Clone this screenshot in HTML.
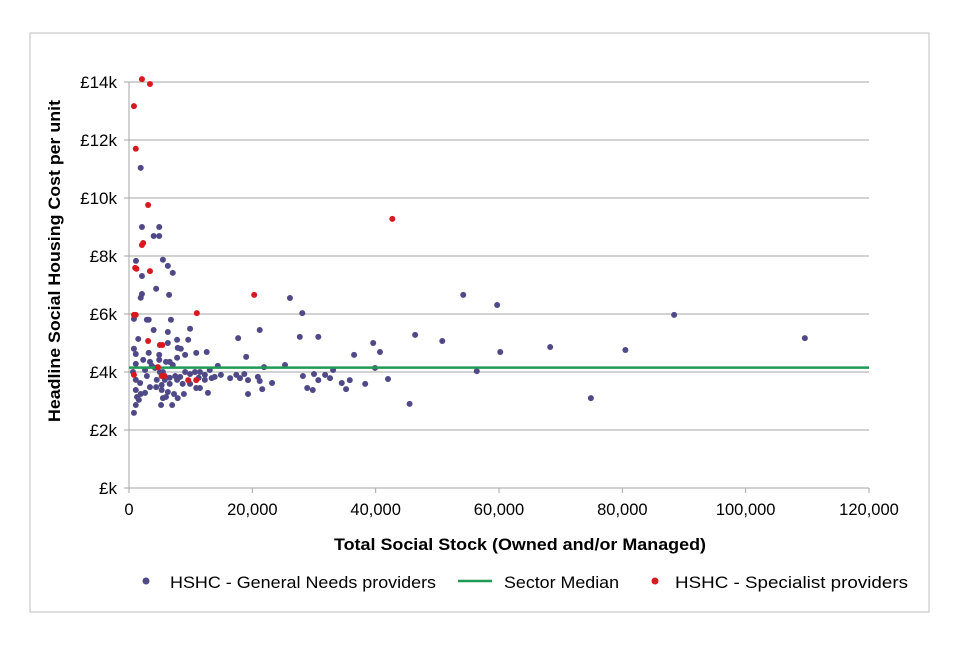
<!DOCTYPE html>
<html><head><meta charset="utf-8"><style>
body{margin:0;background:#fff;font-family:"Liberation Sans",Arial,sans-serif;}
svg text{font-family:"Liberation Sans",Arial,sans-serif;}
</style></head><body>
<svg id="c" width="960" height="640">
<rect x="30" y="33" width="899" height="579" fill="#fff" stroke="#bfbfbf"/>
<g id="grid"></g><g id="axes"></g><g id="marks"></g>
<text x="334" y="550" textLength="372" lengthAdjust="spacingAndGlyphs" font-size="16.5" font-weight="bold">Total Social Stock (Owned and/or Managed)</text>
<text transform="translate(60,422) rotate(-90)" textLength="322" lengthAdjust="spacingAndGlyphs" font-size="16.5" font-weight="bold">Headline Social Housing Cost per unit</text>
<g>
<g><circle cx="146" cy="581" r="3.5" fill="#4f4a87"/><text x="170" y="588" font-size="17" textLength="266" lengthAdjust="spacingAndGlyphs">HSHC - General Needs providers</text></g>
<g><line x1="458" y1="581" x2="492" y2="581" stroke="#1f9a55" stroke-width="2.5"/><text x="504" y="588" font-size="17" textLength="115" lengthAdjust="spacingAndGlyphs">Sector Median</text></g>
<g><circle cx="655" cy="581" r="3.5" fill="#d71920"/><text x="675" y="588" font-size="17" textLength="233" lengthAdjust="spacingAndGlyphs">HSHC - Specialist providers</text></g>
</g>
</svg>
<script>
const xTicks=[0,20000,40000,60000,80000,100000,120000];
const xTickLabels=["0","20,000","40,000","60,000","80,000","100,000","120,000"];
const yTicks=[0,2000,4000,6000,8000,10000,12000,14000];
const yTickLabels=["£k","£2k","£4k","£6k","£8k","£10k","£12k","£14k"];
const medianValue=4150;
const generalX=[54200,59700,60200,68300,80500,88400,109600,74900,56400,50800,46400,45500,42000,40700,39600,39900,38300,36500,35800,35200,34500,33100,32600,31800,30700,30000,30700,29800,28900,28200,28100,27700,26100,25300,23200,21900,21200,21200,21600,20900,19300,18700,18000,19000,17400,17700,19300,16400,14900,14400,
1130,5500,6300,7100,2100,4400,2100,1900,6500,800,2900,3200,6800,4000,6300,9900,1500,6300,7800,9600,800,1100,3200,4900,7900,8400,7800,9100,10900,1100,650,3400,4900,6000,6600,4200,7100,5500,6600,7500,8300,9100,9900,1100,1800,3400,4400,5300,6600,7800,8700,9900,10900,11300,1100,1300,1600,1100,1900,2600,800,5300,5500,6300,7300,7900,7000,5200,8900,11500,1900,2100,4900,4000,4900,2600,3700,2900,4500,5800,5000,2300,11500,12300,13100,12600,13400,12300,13900,12800,10700,6000];
const generalY=[6660,6310,4690,4860,4760,5970,5170,3100,4030,5070,5280,2900,3760,4690,5000,4140,3590,4590,3720,3410,3620,4070,3790,3900,3720,3930,5210,3380,3450,3860,6030,5210,6550,4240,3620,4170,5450,3690,3410,3830,3720,3930,3790,4520,3900,5170,3240,3790,3900,4210,
7830,7870,7660,7420,7310,6870,6690,6560,6660,5830,5800,5800,5800,5450,5380,5490,5140,5000,5110,5110,4800,4620,4660,4590,4830,4800,4490,4590,4660,4280,4000,4350,4420,4350,4350,4140,4240,4000,3800,3860,3830,4000,3930,3730,3620,3480,3480,3550,3590,3730,3590,3590,3450,3800,3380,3140,3040,2860,3240,3280,2590,3380,3100,3310,3240,3100,2860,2860,3240,3450,11040,9000,9000,8690,8690,4070,4210,3860,3730,3730,4000,4420,4000,3900,4070,4690,3790,3730,3830,3280,4000,3140];
const specialistX=[2100,3400,800,1100,3100,2100,2300,1000,1200,3400,800,1100,3100,5000,800,5300,5800,4700,10900,9600,11000,20300,42700,5400];
const specialistY=[14100,13930,13170,11700,9760,8380,8450,7590,7560,7480,5970,5970,5070,4930,3900,3860,3860,4170,3720,3720,6030,6660,9280,4930];
const NS="http://www.w3.org/2000/svg";
const X0=129,X1=869,Y0=488,Y1=82;
const sx=v=>X0+(v-0)/(120000)*(X1-X0);
const sy=v=>Y0-(v/14000)*(Y0-Y1);
function mk(t,a,p){const e=document.createElementNS(NS,t);for(const k in a)e.setAttribute(k,a[k]);p.appendChild(e);return e;}
const grid=document.getElementById('grid'),axes=document.getElementById('axes'),marks=document.getElementById('marks');
yTicks.forEach((v,i)=>{
 if(v>0){const g=mk('line',{x1:X0-5,x2:X1,y1:sy(v),y2:sy(v),stroke:'#a6a6a6','stroke-width':1},grid);
 
 }
 const t=mk('text',{x:X0-12,y:sy(v)+6,'text-anchor':'end','font-size':17},axes);t.textContent=yTickLabels[i];
 
 
});
const xa=mk('line',{x1:X0-5,x2:X1,y1:Y0,y2:Y0,stroke:'#a6a6a6'},axes);


const ya=mk('line',{x1:X0,x2:X0,y1:Y1,y2:Y0,stroke:'#a6a6a6'},axes);


xTicks.forEach((v,i)=>{
 mk('line',{x1:sx(v),x2:sx(v),y1:Y0,y2:Y0+5,stroke:'#a6a6a6'},axes);
 const t=mk('text',{x:sx(v),y:Y0+27,'text-anchor':'middle','font-size':16.5},axes);t.textContent=xTickLabels[i];
 
 
});
generalX.forEach((v,i)=>{const c=mk('circle',{cx:sx(v),cy:sy(generalY[i]),r:3,fill:'#4f4a87'},marks);
 
 });
const m=mk('line',{x1:X0,x2:X1,y1:sy(medianValue),y2:sy(medianValue),stroke:'#1f9a55','stroke-width':2.5},marks);


specialistX.forEach((v,i)=>{const c=mk('circle',{cx:sx(v),cy:sy(specialistY[i]),r:3,fill:'#d71920'},marks);
 
 });
</script>
</body></html>
